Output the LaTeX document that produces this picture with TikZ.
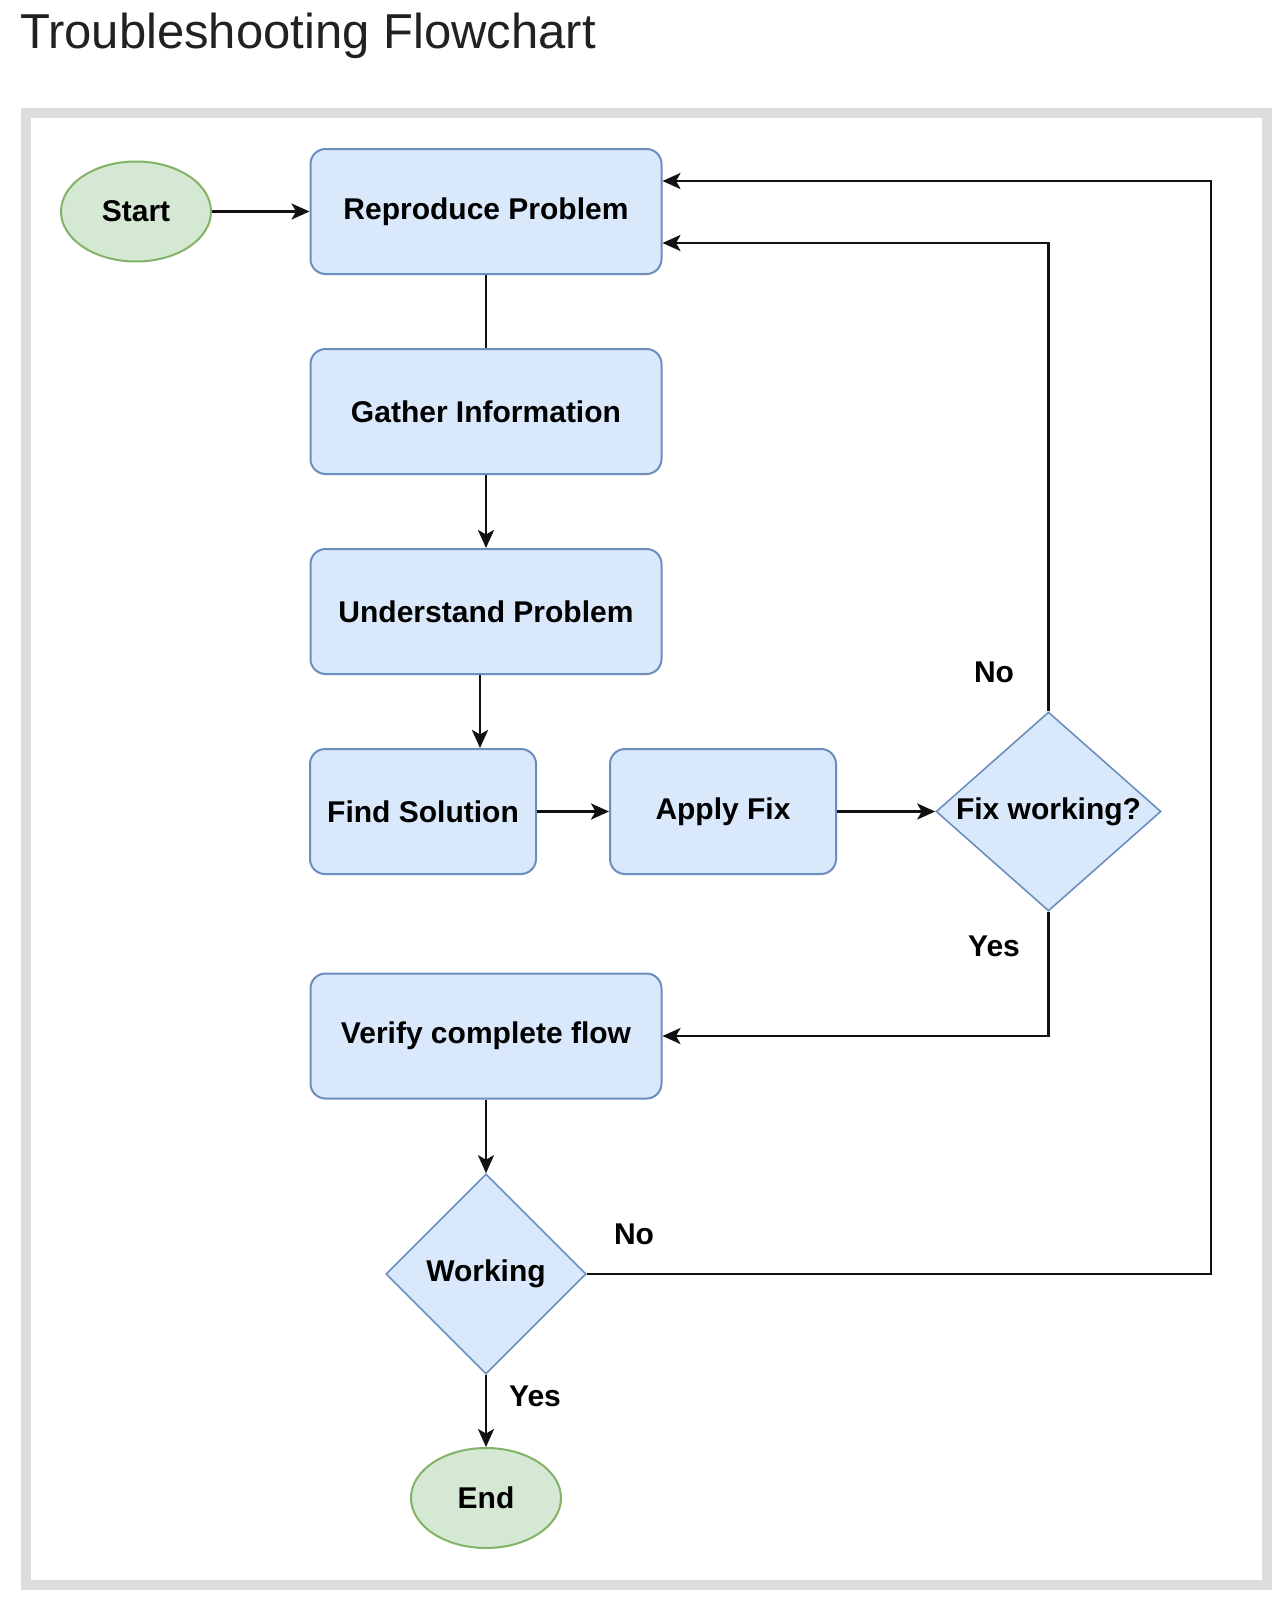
\documentclass[tikz,border=0pt]{standalone}
\usepackage{fontspec}
\setmainfont{Liberation Sans}
\usetikzlibrary{shapes.geometric,arrows.meta}

\definecolor{boxfill}{HTML}{DAE8FC}
\definecolor{boxline}{HTML}{6C8EBF}
\definecolor{termfill}{HTML}{D5E8D4}
\definecolor{termline}{HTML}{82B366}
\definecolor{framegray}{HTML}{DDDDDD}
\definecolor{titleink}{HTML}{212121}
\definecolor{ink}{HTML}{111111}

\tikzset{
  stepbox/.style={draw=boxline, fill=boxfill, line width=2pt, rounded corners=15pt,
    minimum height=125pt, inner sep=0pt, font=\fontsize{30}{36}\selectfont\bfseries},
  wide/.style={minimum width=351pt},
  narrow/.style={minimum width=226pt},
  terminal/.style={ellipse, draw=termline, fill=termfill, line width=2pt,
    minimum width=150pt, minimum height=100pt, inner sep=0pt,
    font=\fontsize{30}{36}\selectfont\bfseries},
  decision/.style={diamond, draw=boxline, fill=boxfill, line width=1.6pt, inner sep=0pt,
    font=\fontsize{30}{36}\selectfont\bfseries},
  edgelabel/.style={font=\fontsize{30}{36}\selectfont\bfseries, inner sep=0pt},
  link/.style={draw=ink, line width=2.7pt},
  arr/.style={link, -{Stealth[length=18pt, width=16pt, inset=4.5pt]}},
}

\begin{document}
\begin{tikzpicture}[x=1pt, y=-1pt]
  \useasboundingbox (0,0) rectangle (1282,1600);
  \fill[white] (0,0) rectangle (1282,1600);

  % title
  \node[anchor=base west, inner sep=0pt, text=titleink,
        font=\fontsize{49}{58}\selectfont] (title) at (20,49) {Troubleshooting Flowchart};

  % panel frame
  \draw[framegray, line width=10pt] (25.5,113) rectangle (1267,1585);

  % nodes
  \node[terminal] (start) at (136,211.5) {Start};
  \node[stepbox, wide] (repro) at (486,211.5) {Reproduce Problem};
  \node[stepbox, wide] (gather) at (486,411.5) {Gather Information};
  \node[stepbox, wide] (under) at (486,611.5) {Understand Problem};
  \node[stepbox, narrow] (find) at (423,811.5) {Find Solution};
  \node[stepbox, narrow] (apply) at (723,811.5) {Apply Fix};
  \node[decision, minimum width=225pt, minimum height=199pt] (fixw) at (1048.5,811.5)
        {\makebox[0pt]{Fix working?}};
  \node[stepbox, wide] (verify) at (486,1036) {Verify complete flow};
  \node[decision, minimum width=200pt, minimum height=200pt] (work) at (486,1274)
        {\makebox[0pt]{Working}};
  \node[terminal] (end) at (486,1498) {End};

  % edge labels
  \node[edgelabel] (noA) at (994,672) {No};
  \node[edgelabel] (yesA) at (994,946) {Yes};
  \node[edgelabel] (noB) at (634,1234) {No};
  \node[edgelabel] (yesB) at (535,1396) {Yes};

  % loop-back corner on the right
  \coordinate (rt) at (1211,181);

  % connectors
  \draw[arr] (start) -- (repro);
  \draw[link] (repro) -- (gather);
  \draw[arr] (gather) -- (under);
  \draw[arr] ([xshift=-6pt]under.south) -- ([xshift=-6pt]under.south |- find.north);
  \draw[arr] (find) -- (apply);
  \draw[arr] (apply) -- (fixw);
  \draw[arr] (fixw.north) |- ([yshift=-31.5pt]repro.east);
  \draw[arr] (fixw.south) |- (verify.east);
  \draw[arr] (verify) -- (work);
  \draw[arr] (work.east) -| (rt) -- ([yshift=30.5pt]repro.east);
  \draw[arr] (work) -- (end);
\end{tikzpicture}
\end{document}
